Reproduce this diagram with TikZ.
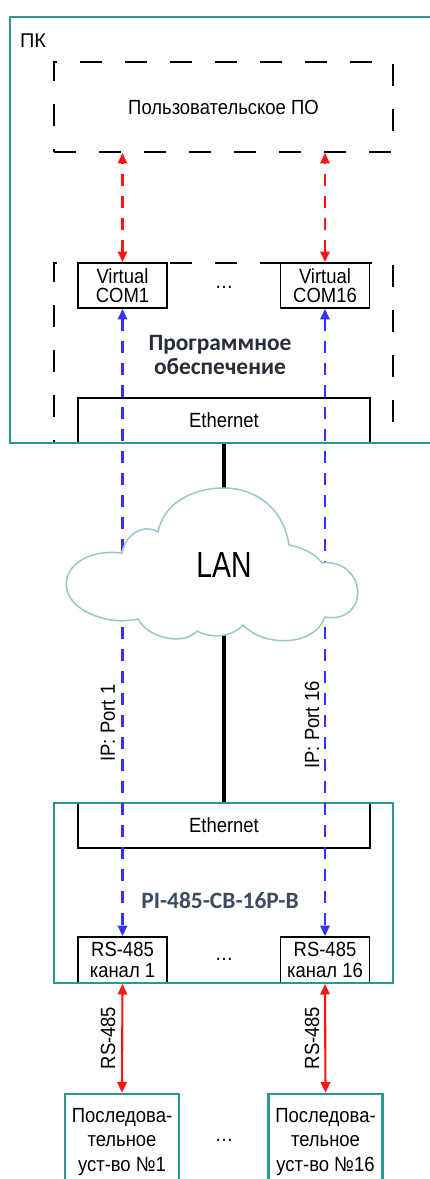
\documentclass[tikz,border=0pt]{standalone}
\usepackage{fontspec}
\setmainfont[FakeStretch=0.9]{Liberation Sans}
\newfontfamily\plainfont{Liberation Sans}
\newfontfamily\calibri{Carlito}
\newfontfamily\narrowfont[FakeStretch=0.78]{Liberation Sans}
\usepackage{tikz}
\usetikzlibrary{arrows.meta, positioning}

\definecolor{boxteal}{RGB}{45,150,145}
\definecolor{cloudteal}{RGB}{150,200,205}
\definecolor{linkblue}{RGB}{50,50,255}
\definecolor{linkred}{RGB}{255,20,20}
\definecolor{titlegrey}{RGB}{40,45,55}
\definecolor{devgrey}{RGB}{60,75,95}

\tikzset{
  inbox/.style={draw, line width=1.6pt, fill=white, inner sep=0pt, align=center},
  dashbox/.style={draw, line width=1.6pt, inner sep=0pt, dash pattern=on 0.66cm off 0.69cm},
  tealbox/.style={draw=boxteal, line width=2.2pt, inner sep=0pt, align=center},
  redlink/.style={linkred, line width=1.8pt, dash pattern=on 0.36cm off 0.3cm, {Triangle[length=9pt,width=8pt]}-{Triangle[length=9pt,width=8pt]}},
  bluelink/.style={linkblue, line width=1.8pt, dash pattern=on 0.36cm off 0.3cm, {Triangle[length=9pt,width=8pt]}-{Triangle[length=9pt,width=8pt]}},
  rslink/.style={linkred, line width=1.8pt, {Triangle[length=9pt,width=8pt]}-{Triangle[length=9pt,width=8pt]}},
  lanlink/.style={black, line width=2.6pt},
  biglabel/.style={font=\calibri\bfseries\fontsize{20}{21}\selectfont, align=center}
}

\begin{document}
\begin{tikzpicture}[x=0.03cm, y=-0.03cm, font=\fontsize{17.5}{16.5}\selectfont]
\useasboundingbox (0,0) rectangle (430,1179);
\clip (0,0) rectangle (430,1179);
\fill[white] (0,0) rectangle (430,1179);

% PC side
\node[dashbox, minimum width=10.17cm, minimum height=2.7cm] (app) at (223.5,107) {Пользовательское ПО};
\node[dashbox, minimum width=10.17cm, minimum height=5.4cm] (sw) at (223.5,353) {};
\node[inbox, minimum width=2.67cm, minimum height=1.35cm] (com1) at (122.5,285.5) {Virtual\\COM1};
\node[inbox, minimum width=2.67cm, minimum height=1.35cm] (com16) at (325,285.5) {Virtual\\COM16};
\node[anchor=base] (dotscom) at (224,288) {\ldots};
\node[biglabel, text=titlegrey] (swname) at (220,355) {Программное\\обеспечение};
\node[inbox, minimum width=8.76cm, minimum height=1.35cm] (eth1) at (224,420.5) {Ethernet};
\node[tealbox, minimum width=13.05cm, minimum height=12.78cm] (pc) at (227.5,230) {};
\node[font=\plainfont\fontsize{17}{17}\selectfont] (pclabel) at (33,41) {ПК};

% converter
\node[inbox, minimum width=8.76cm, minimum height=1.35cm] (eth2) at (224,825.5) {Ethernet};
\node[inbox, minimum width=2.67cm, minimum height=1.38cm, font=\fontsize{17.5}{18}\selectfont] (rs1) at (122.5,960) {RS-485\\канал 1};
\node[inbox, minimum width=2.67cm, minimum height=1.38cm, font=\fontsize{17.5}{18}\selectfont] (rs16) at (325,960) {RS-485\\канал 16};
\node[anchor=base] (dotsrs) at (224,960) {\ldots};
\node[tealbox, minimum width=10.17cm, minimum height=5.4cm] (gw) at (223.5,893) {};
\node[biglabel, text=devgrey] (gwname) at (220,900) {PI-485-CB-16P-B};

% serial devices
\node[tealbox, fill=white, minimum width=3.42cm, minimum height=2.88cm, font=\fontsize{17.5}{21}\selectfont] (dev1) at (122,1142) {Последова-\\тельное\\уст-во №1};
\node[tealbox, fill=white, minimum width=3.42cm, minimum height=2.88cm, font=\fontsize{17.5}{21}\selectfont] (dev16) at (325.5,1142) {Последова-\\тельное\\уст-во №16};
\node[anchor=base] (dotsdev) at (224,1141) {\ldots};

% links
\draw[redlink] (com1.north) -- (com1.north |- app.south);
\draw[redlink] (com16.north) -- (com16.north |- app.south);
\draw[bluelink] (com1.south) -- (rs1.north);
\draw[bluelink] (com16.south) -- (rs16.north);
\draw[rslink] (rs1.south) -- (dev1.north);
\draw[rslink] (rs16.south) -- (dev16.north);

\coordinate (lantop) at (224,495);
\coordinate (lanbot) at (224,628);
\draw[lanlink] (eth1.south) -- (lantop);
\draw[lanlink] (lanbot) -- (eth2.north);

% LAN cloud
\draw[cloudteal, line width=1.3pt, fill=white]
  (122,553) .. controls (85,549) and (62,568) .. (67,590)
  .. controls (72,612) and (110,626) .. (138,619)
  .. controls (150,640) and (185,645) .. (197,631)
  .. controls (212,639) and (232,637) .. (243,625)
  .. controls (265,648) and (315,646) .. (325,617)
  .. controls (350,622) and (364,600) .. (355,580)
  .. controls (348,566) and (334,561) .. (322,563)
  .. controls (315,553) and (300,547) .. (289,545)
  .. controls (283,505) and (252,488) .. (224,488)
  .. controls (190,488) and (163,505) .. (158,532)
  .. controls (145,523) and (125,534) .. cycle;
\node[font=\narrowfont\fontsize{31}{31}\selectfont] (lan) at (224,565) {LAN};

% labels
\node[rotate=90] (ip1) at (108,723) {IP: Port 1};
\node[rotate=90] (ip16) at (312,725) {IP: Port 16};
\node[rotate=90] (rsl1) at (108,1038) {RS-485};
\node[rotate=90] (rsl16) at (312,1038) {RS-485};
\end{tikzpicture}
\end{document}
